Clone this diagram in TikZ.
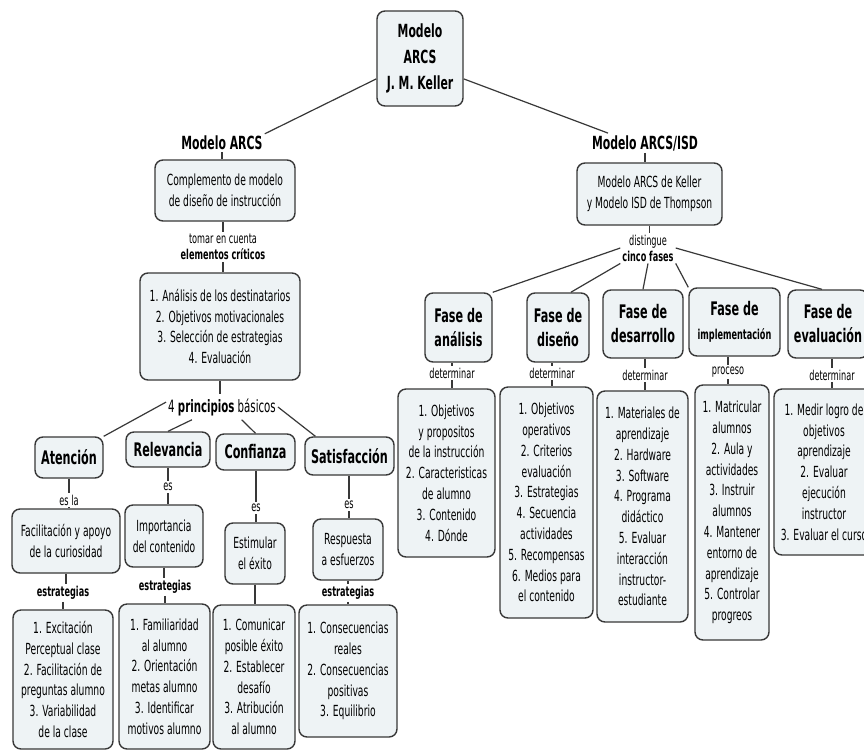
\documentclass[tikz,border=0pt]{standalone}
\usepackage{fontspec}
\setmainfont{DejaVu Sans}[FakeStretch=0.6]
\definecolor{boxfill}{HTML}{EEF3F5}
\definecolor{edge}{HTML}{383838}
\newcommand\linkv[3]{\draw[con] (#2.north) -- (#2.north |- #1.south); \draw[con] (#2.south) -- (#2.south |- #3.north);}
\newcommand\linkd[2]{\draw[con] (#1.south) -- (#1.south |- #2.north);}
\begin{document}
\begin{tikzpicture}[x=1pt,y=-1pt,
 box/.style={draw=edge, fill=boxfill, line width=1.4pt, rounded corners=8pt, align=center, inner sep=0pt},
 body/.style={box, font=\fontsize{15.3}{20.8}\selectfont},
 ttl/.style={box, font=\fontsize{18.7}{24}\selectfont\bfseries},
 lbl/.style={align=center, inner sep=2pt, font=\fontsize{13.6}{16}\selectfont},
 blbl/.style={lbl, font=\fontsize{13.6}{16}\selectfont\bfseries},
 con/.style={draw=edge, line width=1.2pt}]
\useasboundingbox[fill=white] (0,0) rectangle (864,753);

% top
\node[box, font=\fontsize{18.1}{26}\selectfont\bfseries, minimum width=86pt, minimum height=95pt] (top) at (420,58.5) {Modelo\\ARCS\\J. M. Keller};

% left branch
\node[lbl, font=\fontsize{18.1}{20}\selectfont\bfseries] (mA) at (222,143) {Modelo ARCS};
\node[body, minimum width=140pt, minimum height=61pt] (b1) at (225,190.5) {Complemento de modelo\\de diseño de instrucción};
\node[lbl] (tc) at (223,247) {tomar en cuenta\\\textbf{elementos críticos}};
\node[body, minimum width=160pt, minimum height=107pt] (b2) at (220,326.5) {1. Análisis de los destinatarios\\2. Objetivos motivacionales\\3. Selección de estrategias\\4. Evaluación};
\node[lbl, font=\fontsize{17}{18}\selectfont, inner ysep=4pt] (pb) at (222,407) {4 \textbf{principios} básicos};

\node[ttl, minimum width=68pt, minimum height=41pt] (aten) at (69,457.5) {Atención};
\node[ttl, minimum width=84pt, minimum height=35pt] (rel) at (168,449.5) {Relevancia};
\node[ttl, minimum width=79pt, minimum height=36pt] (conf) at (255.5,452) {Confianza};
\node[ttl, minimum width=89pt, minimum height=38pt] (sat) at (349.5,456) {Satisfacción};

\node[lbl] (esla) at (69,500) {es la};
\node[body, minimum width=108pt, minimum height=64pt] (fac) at (66,541) {Facilitación y apoyo\\de la curiosidad};
\node[blbl] (est1) at (63,593) {estrategias};
\node[body, minimum width=100pt, minimum height=139pt] (exc) at (63,679.5) {1. Excitación\\Perceptual clase\\2. Facilitación de\\preguntas alumno\\3. Variabilidad\\de la clase};

\node[lbl] (es2) at (168,487) {es};
\node[body, minimum width=78pt, minimum height=62pt] (imp) at (164,536) {Importancia\\del contenido};
\node[blbl] (est2) at (165,587) {estrategias};
\node[body, minimum width=91pt, minimum height=145pt] (fam) at (164.5,676.5) {1. Familiaridad\\al alumno\\2. Orientación\\metas alumno\\3. Identificar\\motivos alumno};

\node[lbl] (es3) at (256,508) {es};
\node[body, minimum width=60pt, minimum height=61pt] (esti) at (255,553.5) {Estimular\\el éxito};
\node[body, minimum width=82pt, minimum height=144pt] (com) at (254,677) {1. Comunicar\\posible éxito\\2. Establecer\\desafío\\3. Atribución\\al alumno};

\node[lbl] (es4) at (349,505) {es};
\node[body, minimum width=70pt, minimum height=61pt] (resp) at (348,549.5) {Respuesta\\a esfuerzos};
\node[blbl] (est4) at (348,593) {estrategias};
\node[body, minimum width=98pt, minimum height=132pt] (cons) at (348,671) {1. Consecuencias\\reales\\2. Consecuencias\\positivas\\3. Equilibrio};

% right branch
\node[lbl, font=\fontsize{18.1}{20}\selectfont\bfseries] (mI) at (645,143) {Modelo ARCS/ISD};
\node[body, minimum width=145pt, minimum height=62pt] (b3) at (649.5,194) {Modelo ARCS de Keller\\y Modelo ISD de Thompson};
\node[lbl] (cf) at (648,248) {distingue\\\textbf{cinco fases}};

\node[ttl, minimum width=67pt, minimum height=69pt] (fa) at (458.5,327.5) {Fase de\\análisis};
\node[ttl, minimum width=62pt, minimum height=69pt] (fd) at (558,327.5) {Fase de\\diseño};
\node[ttl, minimum width=80pt, minimum height=68pt] (fdes) at (643,324) {Fase de\\desarrollo};
\node[ttl, minimum width=91pt, minimum height=68pt] (fi) at (734.5,322) {Fase de\\{\fontsize{13.6}{14}\selectfont implementación}};
\node[ttl, minimum width=80pt, minimum height=68pt] (fe) at (828,324) {Fase de\\evaluación};

\node[lbl] (d1) at (452,373) {determinar};
\node[lbl] (d2) at (552,373) {determinar};
\node[lbl] (d3) at (645,375) {determinar};
\node[lbl] (d4) at (728,372) {proceso};
\node[lbl] (d5) at (832,375) {determinar};

\node[body, minimum width=97pt, minimum height=168pt] (da) at (446.5,473) {1. Objetivos\\y propositos\\de la instrucción\\2. Caracteristicas\\de alumno\\3. Contenido\\4. Dónde};
\node[body, minimum width=93pt, minimum height=231pt] (dd) at (546.5,502.5) {1. Objetivos\\operativos\\2. Criterios\\evaluación\\3. Estrategias\\4. Secuencia\\actividades\\5. Recompensas\\6. Medios para\\el contenido};
\node[body, minimum width=91pt, minimum height=231pt] (ddes) at (642.5,506.5) {1. Materiales de\\aprendizaje\\2. Hardware\\3. Software\\4. Programa\\didáctico\\5. Evaluar\\interacción\\instructor-\\estudiante};
\node[body, minimum width=74pt, minimum height=255pt] (di) at (732,512.5) {1. Matricular\\alumnos\\2. Aula y\\actividades\\3. Instruir\\alumnos\\4. Mantener\\entorno de\\aprendizaje\\5. Controlar\\progreos};
\node[body, minimum width=100pt, minimum height=166pt] (de) at (824,472) {1. Medir logro de\\objetivos\\aprendizaje\\2. Evaluar\\ejecución\\instructor\\3. Evaluar el curso};

% connectors
\draw[con] (top.205) -- (mA.north east);
\draw[con] (top.335) -- (mI.165);
\linkd{mA}{b1}
\linkv{b1}{tc}{b2}
\linkd{b2}{pb}
\draw[con] (pb.175) -- (aten.north east);
\draw[con] (pb.203) -- (rel.north);
\draw[con] (pb.327) -- (conf.north);
\draw[con] (pb.east) -- (sat.150);
\linkv{aten}{esla}{fac}
\linkd{fac}{est1}
\linkd{est1}{exc}
\linkv{rel}{es2}{imp}
\linkd{imp}{est2}
\linkd{est2}{fam}
\linkv{conf}{es3}{esti}
\linkd{esti}{com}
\linkv{sat}{es4}{resp}
\linkd{resp}{est4}
\linkd{est4}{cons}

\linkd{mI}{b3}
\linkd{b3}{cf}
\draw[con] (cf.west) -- (fa.north east);
\draw[con] (cf.south west) -- (fd.70);
\draw[con] (cf.south) -- (fdes.north);
\draw[con] (cf.south east) -- (fi.north west);
\draw[con] (cf.east) -- (fe.100);
\linkv{fa}{d1}{da}
\linkv{fd}{d2}{dd}
\linkv{fdes}{d3}{ddes}
\linkv{fi}{d4}{di}
\linkv{fe}{d5}{de}
\end{tikzpicture}
\end{document}
